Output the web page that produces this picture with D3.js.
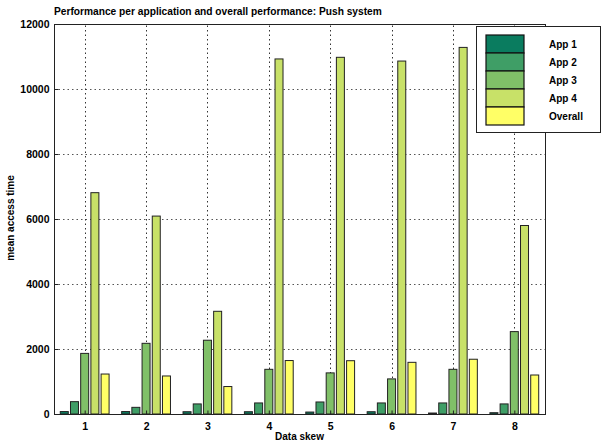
<!DOCTYPE html>
<html>
<head>
<meta charset="utf-8">
<script src="https://cdn.jsdelivr.net/npm/d3@7"></script>
<style>
  body { margin: 0; background: #fff; }
  svg { display: block; font-family: "Liberation Sans", Arial, sans-serif; }
</style>
</head>
<body>
<div id="chart-area"></div>
<script>
// Data
const skews = [1, 2, 3, 4, 5, 6, 7, 8];
const seriesNames = ["App 1", "App 2", "App 3", "App 4", "Overall"];
const app1 = [75, 75, 70, 70, 60, 70, 30, 40];
const app2 = [380, 205, 310, 340, 370, 340, 340, 310];
const app3 = [1865, 2175, 2270, 1375, 1265, 1080, 1375, 2535];
const app4 = [6810, 6090, 3160, 10925, 10975, 10860, 11280, 5800];
const overall = [1230, 1170, 845, 1645, 1640, 1590, 1685, 1200];
const yTicks = [0, 2000, 4000, 6000, 8000, 10000, 12000];

const colors = ["#0a7c5f", "#3f9e66", "#80c068", "#c8e168", "#ffff66"];
const allSeries = [app1, app2, app3, app4, overall];

const width = 602, height = 445;
const margin = {top: 24, right: 57, bottom: 31, left: 54};

const svg = d3.select("#chart-area")
    .append("svg")
    .attr("width", width)
    .attr("height", height);

const x = d3.scaleLinear()
    .domain([0.5, 8.5])
    .range([margin.left, width - margin.right]);

const y = d3.scaleLinear()
    .domain([0, 12000])
    .range([height - margin.bottom, margin.top]);

const barStep = 10.2;
const barWidth = 8;

// dotted grid
svg.append("g")
    .selectAll("line.hgrid")
    .data(yTicks.slice(1, -1))
    .enter()
    .append("line")
    .attr("x1", x.range()[0])
    .attr("x2", x.range()[1])
    .attr("y1", d => y(d) + 0.5)
    .attr("y2", d => y(d) + 0.5)
    .attr("stroke", "#555")
    .attr("stroke-width", 1)
    .attr("stroke-dasharray", "1.5,3");

svg.append("g")
    .selectAll("line.vgrid")
    .data(skews)
    .enter()
    .append("line")
    .attr("x1", d => Math.round(x(d)) + 0.5)
    .attr("x2", d => Math.round(x(d)) + 0.5)
    .attr("y1", y.range()[0])
    .attr("y2", y.range()[1])
    .attr("stroke", "#333")
    .attr("stroke-width", 1)
    .attr("stroke-dasharray", "1.5,3");

// bars
allSeries.forEach((vals, s) => {
    svg.append("g")
        .selectAll("rect")
        .data(vals)
        .enter()
        .append("rect")
        .attr("x", (d, i) => x(skews[i]) + (s - 2) * barStep - barWidth / 2)
        .attr("y", d => y(d))
        .attr("width", barWidth)
        .attr("height", d => y(0) - y(d))
        .attr("fill", colors[s])
        .attr("stroke", "#222")
        .attr("stroke-width", 1);
});

// box around plot
svg.append("rect")
    .attr("x", x.range()[0] + 0.5)
    .attr("y", y.range()[1] + 0.5)
    .attr("width", x.range()[1] - x.range()[0])
    .attr("height", y.range()[0] - y.range()[1])
    .attr("fill", "none")
    .attr("stroke", "#222")
    .attr("stroke-width", 1);

// axes
const yAxis = d3.axisLeft(y).tickValues(yTicks).tickFormat(d3.format("d")).tickSize(-4).tickPadding(5);
const xAxis = d3.axisBottom(x).tickValues(skews).tickFormat(d3.format("d")).tickSize(-4).tickPadding(8);

svg.append("g")
    .attr("transform", `translate(${x.range()[0] + 0.5},0)`)
    .call(yAxis)
    .call(g => g.select(".domain").remove())
    .call(g => g.selectAll("line").attr("stroke", "#222"))
    .call(g => g.selectAll("text")
        .attr("font-size", 10.5).attr("font-weight", "bold")
        .attr("font-family", "Liberation Sans, Arial, sans-serif").attr("fill", "#000"));

svg.append("g")
    .attr("transform", `translate(0,${y.range()[0] + 0.5})`)
    .call(xAxis)
    .call(g => g.select(".domain").remove())
    .call(g => g.selectAll("line").attr("stroke", "#222"))
    .call(g => g.selectAll("text")
        .attr("font-size", 10.5).attr("font-weight", "bold")
        .attr("font-family", "Liberation Sans, Arial, sans-serif").attr("fill", "#000"));

// title and axis labels
svg.append("text")
    .attr("x", 54)
    .attr("y", 15)
    .attr("font-size", 10.2)
    .attr("font-weight", "bold")
    .text("Performance per application and overall performance: Push system");

svg.append("text")
    .attr("x", (x.range()[0] + x.range()[1]) / 2)
    .attr("y", 440)
    .attr("text-anchor", "middle")
    .attr("font-size", 10)
    .attr("font-weight", "bold")
    .text("Data skew");

svg.append("text")
    .attr("transform", "translate(14,218) rotate(-90)")
    .attr("text-anchor", "middle")
    .attr("font-size", 10)
    .attr("font-weight", "bold")
    .text("mean access time");

// legend
const legend = svg.append("g");
legend.append("rect")
    .attr("x", 476.5)
    .attr("y", 26.5)
    .attr("width", 124)
    .attr("height", 106)
    .attr("fill", "#fff")
    .attr("stroke", "#222");

const legendRow = 18;
seriesNames.forEach((name, i) => {
    legend.append("rect")
        .attr("x", 486)
        .attr("y", 35 + i * legendRow)
        .attr("width", 38)
        .attr("height", legendRow)
        .attr("fill", colors[i])
        .attr("stroke", "#111")
        .attr("stroke-width", 1.2);
    legend.append("text")
        .attr("x", 549)
        .attr("y", 35 + i * legendRow + legendRow / 2 + 3.5)
        .attr("font-size", 10)
        .attr("font-weight", "bold")
        .text(name);
});
</script>
</body>
</html>
